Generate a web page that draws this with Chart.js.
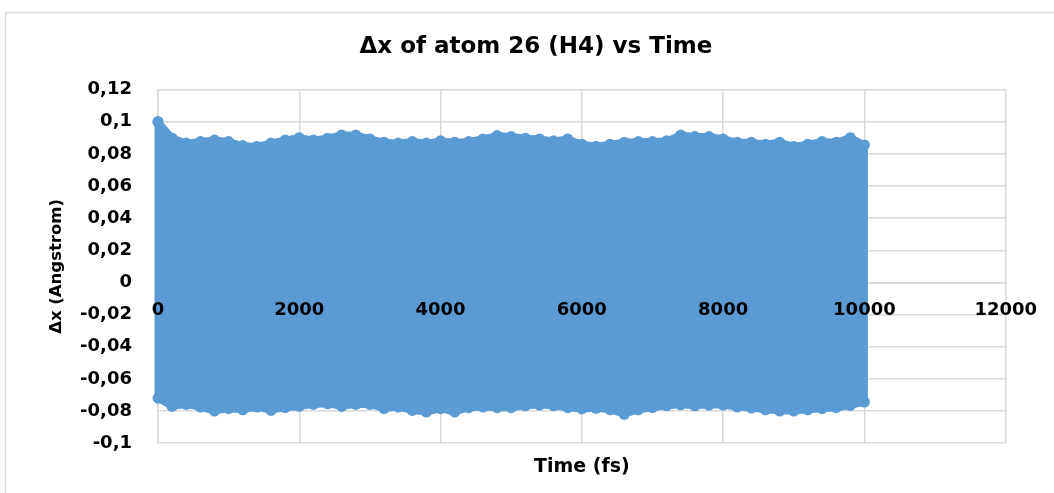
<!DOCTYPE html>
<html>
<head>
<meta charset="utf-8">
<script src="https://cdn.jsdelivr.net/npm/chart.js@4.4.1/dist/chart.umd.min.js"></script>
<style>
  html, body { margin: 0; padding: 0; background: #ffffff; }
  #wrap { width: 1054px; height: 493px; position: relative; }
</style>
</head>
<body>
<div id="wrap"><canvas id="chart"></canvas></div>
<script>
// Sampling times (fs) of the trajectory envelope
const timeFs = [0, 200, 400, 600, 800, 1000, 1200, 1400, 1600, 1800,
  2000, 2200, 2400, 2600, 2800, 3000, 3200, 3400, 3600, 3800,
  4000, 4200, 4400, 4600, 4800, 5000, 5200, 5400, 5600, 5800,
  6000, 6200, 6400, 6600, 6800, 7000, 7200, 7400, 7600, 7800,
  8000, 8200, 8400, 8600, 8800, 9000, 9200, 9400, 9600, 9800, 10000];

// Highest Δx reached around each sampling time (Angstrom)
const dxUpper = [0.1000, 0.0898, 0.0867, 0.0877, 0.0887, 0.0877, 0.0852, 0.0846, 0.0867, 0.0887,
  0.0901, 0.0887, 0.0898, 0.0918, 0.0918, 0.0893, 0.0873, 0.0867, 0.0877, 0.0867,
  0.0881, 0.0873, 0.0877, 0.0893, 0.0914, 0.0908, 0.0898, 0.0893, 0.0881, 0.0893,
  0.0860, 0.0848, 0.0860, 0.0873, 0.0877, 0.0877, 0.0881, 0.0918, 0.0908, 0.0908,
  0.0893, 0.0873, 0.0873, 0.0860, 0.0873, 0.0846, 0.0860, 0.0877, 0.0873, 0.0901, 0.0856];

// Lowest Δx reached around each sampling time (Angstrom)
const dxLower = [-0.0720, -0.0771, -0.0759, -0.0775, -0.0800, -0.0785, -0.0792, -0.0775, -0.0796, -0.0779,
  -0.0771, -0.0759, -0.0755, -0.0771, -0.0759, -0.0759, -0.0785, -0.0775, -0.0796, -0.0806,
  -0.0785, -0.0806, -0.0779, -0.0775, -0.0779, -0.0779, -0.0767, -0.0763, -0.0767, -0.0779,
  -0.0787, -0.0783, -0.0792, -0.0820, -0.0792, -0.0779, -0.0767, -0.0761, -0.0767, -0.0763,
  -0.0763, -0.0775, -0.0781, -0.0792, -0.0800, -0.0800, -0.0792, -0.0785, -0.0779, -0.0765, -0.0744];

// Axis ticks and their printed labels
const xTicks = [0, 2000, 4000, 6000, 8000, 10000, 12000];
const xTickLabels = ['0', '2000', '4000', '6000', '8000', '10000', '12000'];
const yTicks = [-0.1, -0.08, -0.06, -0.04, -0.02, 0, 0.02, 0.04, 0.06, 0.08, 0.1, 0.12];
const yTickLabels = ['-0,1', '-0,08', '-0,06', '-0,04', '-0,02', '0', '0,02', '0,04', '0,06', '0,08', '0,1', '0,12'];

const chartTitle = 'Δx of atom 26 (H4) vs Time';
const xTitle = 'Time (fs)';
const yTitle = 'Δx (Angstrom)';

// Closed outline: upper edge left→right, lower edge right→left
const outline = [];
timeFs.forEach((t, i) => outline.push({ x: t, y: dxUpper[i] }));
for (let i = timeFs.length - 1; i >= 0; i--) outline.push({ x: timeFs[i], y: dxLower[i] });
outline.push({ x: timeFs[0], y: dxUpper[0] });

const BLUE = '#5b9bd5';
const GRID = '#d9d9d9';
const FONT = 'DejaVu Sans';
const tickFont = { family: FONT, size: 18, weight: 'bold' };

const frame = {
  id: 'frame',
  beforeDraw(chart) {
    const ctx = chart.ctx;
    ctx.save();
    ctx.fillStyle = '#ffffff';
    ctx.fillRect(0, 0, chart.width, chart.height);
    ctx.strokeStyle = GRID;
    ctx.lineWidth = 1.5;
    ctx.strokeRect(5.5, 12.5, chart.width + 10, chart.height + 10);
    ctx.restore();
  }
};

new Chart(document.getElementById('chart'), {
  type: 'scatter',
  data: {
    datasets: [{
      label: 'Δx',
      data: outline,
      showLine: true,
      fill: 'shape',
      backgroundColor: BLUE,
      borderColor: BLUE,
      borderWidth: 7,
      borderJoinStyle: 'round',
      borderCapStyle: 'round',
      pointRadius: 5.5,
      pointBorderWidth: 0,
      pointBackgroundColor: BLUE,
      tension: 0,
      clip: false
    }]
  },
  options: {
    responsive: true,
    maintainAspectRatio: false,
    animation: false,
    layout: { padding: { left: 18, right: 0, top: 0, bottom: 0 } },
    plugins: {
      legend: { display: false },
      tooltip: { enabled: false },
      title: {
        display: true,
        text: chartTitle,
        color: '#000000',
        font: { family: FONT, size: 23, weight: 'bold' },
        padding: { top: 33, bottom: 29 }
      }
    },
    scales: {
      // time axis crossing at Δx = 0; labels are drawn over the data
      x: {
        type: 'linear',
        position: { y: 0 },
        min: 0,
        max: 12000,
        afterBuildTicks: s => { s.ticks = xTicks.map(v => ({ value: v })); },
        ticks: {
          z: 1,
          color: '#000000',
          font: tickFont,
          padding: 17,
          maxRotation: 0,
          autoSkip: false,
          callback: (v, i) => xTickLabels[i]
        },
        grid: { z: -1, color: GRID, lineWidth: 1.5, drawTicks: false },
        border: { z: -1, color: GRID, width: 1.5 }
      },
      xTitleAxis: {
        type: 'linear',
        axis: 'x',
        position: 'bottom',
        min: 0,
        max: 12000,
        ticks: { display: false },
        grid: { display: false, drawTicks: false },
        border: { display: false },
        title: {
          display: true,
          text: xTitle,
          color: '#000000',
          font: { family: FONT, size: 19, weight: 'bold' },
          padding: { top: 12, bottom: 15 }
        }
      },
      y: {
        type: 'linear',
        min: -0.1,
        max: 0.12,
        afterBuildTicks: s => { s.ticks = yTicks.map(v => ({ value: v })); },
        afterFit: s => { s.width = 140; },
        ticks: {
          color: '#000000',
          font: tickFont,
          padding: 26,
          autoSkip: false,
          callback: (v, i) => yTickLabels[i]
        },
        grid: { color: GRID, lineWidth: 1.5, drawTicks: false },
        border: { color: GRID, width: 1.5 },
        title: {
          display: true,
          text: yTitle,
          color: '#000000',
          font: { family: FONT, size: 16.5, weight: 'bold' },
          padding: { top: 29, bottom: 0 }
        }
      },
      // empty margin on the right of the plot
      yRightMargin: {
        type: 'linear',
        axis: 'y',
        position: 'right',
        min: -0.1,
        max: 0.12,
        afterFit: s => { s.width = 47; },
        ticks: { display: false },
        grid: { display: false, drawTicks: false },
        border: { display: false }
      }
    }
  },
  plugins: [frame]
});
</script>
</body>
</html>
